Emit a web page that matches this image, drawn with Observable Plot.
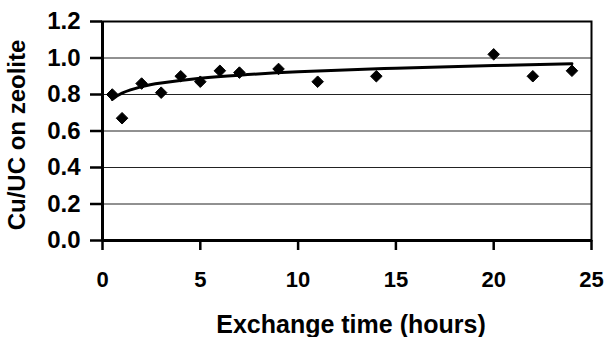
<!DOCTYPE html>
<html>
<head>
<meta charset="utf-8">
<script src="https://cdn.jsdelivr.net/npm/d3@7"></script>
<script src="https://cdn.jsdelivr.net/npm/@observablehq/plot@0.6"></script>
<style>
  html, body { margin: 0; padding: 0; background: #fff; }
  #chart svg { display: block; }
</style>
</head>
<body>
<div id="chart"></div>
<script>
// Measured points
const hours = [0.5, 1, 2, 3, 4, 5, 6, 7, 9, 11, 14, 20, 22, 24];
const cuPerUC = [0.80, 0.67, 0.86, 0.81, 0.90, 0.87, 0.93, 0.92, 0.94, 0.87, 0.90, 1.02, 0.90, 0.93];

// Trend line (logarithmic fit)
const trendHours = [0.5, 1, 2, 3, 5, 7, 10, 15, 20, 24];
const trendValues = [0.773, 0.808, 0.843, 0.863, 0.889, 0.906, 0.924, 0.944, 0.959, 0.968];

const xTicks = [0, 5, 10, 15, 20, 25];
const yTicks = [0, 0.2, 0.4, 0.6, 0.8, 1.0, 1.2];
const xTickLabels = ["0", "5", "10", "15", "20", "25"];
const yTickLabels = ["0.0", "0.2", "0.4", "0.6", "0.8", "1.0", "1.2"];

const xTitle = "Exchange time (hours)";
const yTitle = "Cu/UC on zeolite";

const points = hours.map((h, i) => ({h, v: cuPerUC[i]}));
const trend = trendHours.map((h, i) => ({h, v: trendValues[i]}));
const xLab = xTicks.map((t, i) => ({t, s: xTickLabels[i]}));
const yLab = yTicks.map((t, i) => ({t, s: yTickLabels[i]}));

const font = "'Liberation Sans', Arial, Helvetica, sans-serif";

const chart = Plot.plot({
  width: 607,
  height: 337,
  marginLeft: 102,
  marginRight: 16,
  marginTop: 21,
  marginBottom: 97,
  style: {fontFamily: font, fontWeight: "bold", color: "#000", background: "#fff"},
  x: {domain: [0, 25]},
  y: {domain: [0, 1.2]},
  marks: [
    Plot.gridY(yTicks.slice(1, -1), {stroke: "#222", strokeOpacity: 1, strokeWidth: 1}),
    Plot.frame({stroke: "#000", strokeWidth: 2}),
    Plot.axisX({ticks: xTicks, tickSize: 10, tickFormat: () => "", label: null, strokeWidth: 2.5}),
    Plot.axisY({ticks: yTicks, tickSize: 12, tickFormat: () => "", label: null, strokeWidth: 2.5}),
    Plot.ruleX([0], {stroke: "#000", strokeWidth: 3}),
    Plot.ruleY([0], {stroke: "#000", strokeWidth: 3}),
    Plot.text(xLab, {x: "t", text: "s", frameAnchor: "bottom", textAnchor: "middle", lineAnchor: "middle", dy: 39, fontSize: 22, fontWeight: "bold", fill: "#000"}),
    Plot.text(yLab, {y: "t", text: "s", frameAnchor: "left", textAnchor: "end", lineAnchor: "middle", dx: -22, fontSize: 24, fontWeight: "bold", fill: "#000"}),
    Plot.text([xTitle], {frameAnchor: "bottom", textAnchor: "middle", lineAnchor: "middle", dx: 4, dy: 84, fontSize: 25, fontWeight: "bold", fill: "#000"}),
    Plot.text([yTitle], {frameAnchor: "left", textAnchor: "middle", lineAnchor: "middle", dx: -85, dy: 4, rotate: -90, fontSize: 24, fontWeight: "bold", fill: "#000"}),
    Plot.line(trend, {x: "h", y: "v", curve: "natural", stroke: "#000", strokeWidth: 3}),
    Plot.dot(points, {x: "h", y: "v", symbol: "diamond2", r: 5.2, fill: "#000", stroke: "#000", strokeWidth: 1})
  ]
});
document.getElementById("chart").appendChild(chart);
</script>
</body>
</html>
